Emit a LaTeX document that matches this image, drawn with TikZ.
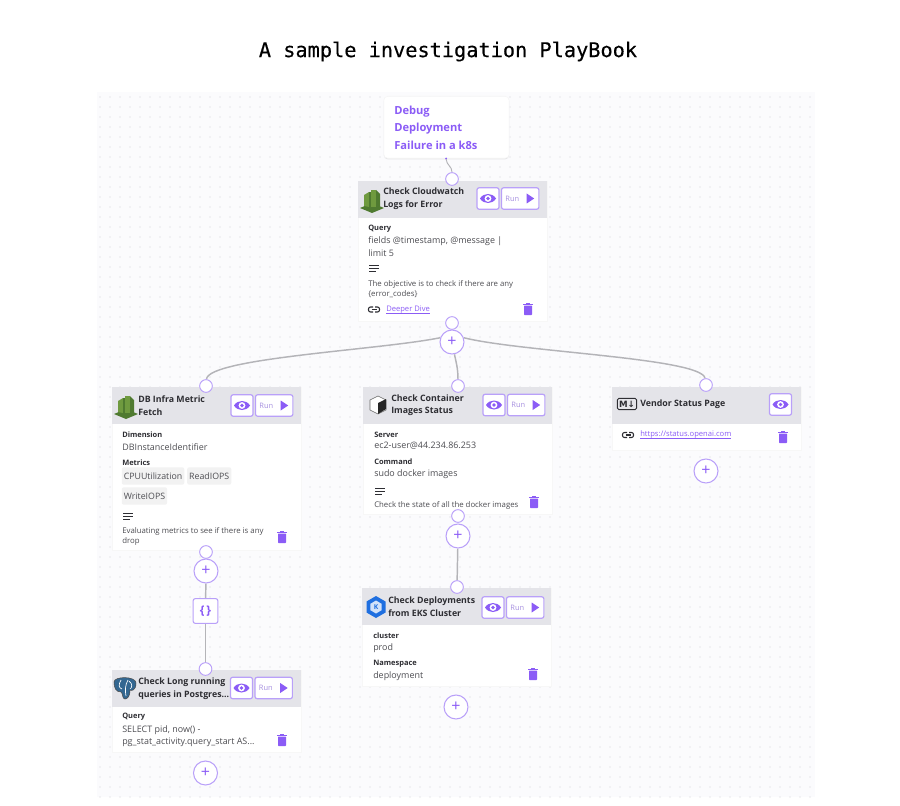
\documentclass[tikz,border=0pt]{standalone}
\usepackage{fontspec}
\usepackage{tikz}
\usetikzlibrary{positioning,backgrounds,shadows}
\setmainfont{Open Sans}
\newfontfamily\titlefont[FakeBold=0.35]{DejaVu Sans Mono}
\newfontfamily\glyphfont{DejaVu Sans}
\definecolor{pbpurple}{HTML}{8B5CF6}
\definecolor{pbedge}{HTML}{B9A0F9}
\definecolor{pbhead}{HTML}{E4E4E9}
\definecolor{pbcanvas}{HTML}{FBFBFD}
\definecolor{pbdot}{HTML}{D0D0D8}
\definecolor{pbink}{HTML}{2E2E33}
\definecolor{pbwire}{HTML}{B4B4B8}
\definecolor{pbgreen}{HTML}{6F9A3F}
\definecolor{pbdark}{HTML}{4F7A30}
\definecolor{pbblue}{HTML}{336791}
\definecolor{pbeks}{HTML}{1F6FE0}

\tikzset{
  px/.style={x=0.75pt, y=-0.75pt},
  cardbody/.style={draw=black!3, fill=white, anchor=north west, inner sep=0pt,
                   minimum width=141.75pt, minimum height={#1*0.75pt}},
  cardhead/.style={fill=pbhead, anchor=north, inner sep=0pt,
                   minimum width=141.75pt, minimum height=27.5pt},
  cardtitle/.style={anchor=west, align=left, inner sep=0pt, text=pbink, yshift=-0.4pt,
                    font=\fontsize{6.6}{9.3}\selectfont\bfseries},
  fieldname/.style={anchor=west, inner sep=0pt, text=pbink, yshift=-0.75pt,
                    font=\fontsize{5.6}{7}\selectfont\bfseries},
  fieldval/.style={anchor=west, align=left, inner sep=0pt, text=pbink!85, yshift=-0.75pt,
                   font=\fontsize{6.7}{9.4}\selectfont},
  notetext/.style={anchor=west, align=left, inner sep=0pt, text=pbink!85, yshift=-0.75pt,
                   font=\fontsize{5.85}{7.5}\selectfont},
  linktext/.style={anchor=west, inner sep=0pt, text=pbpurple, yshift=-3pt,
                   font=\fontsize{5.7}{7}\selectfont},
  chip/.style={anchor=west, fill=black!5, rounded corners=1.5pt, inner xsep=1.5pt,
               minimum height=13pt, inner ysep=0pt, text=pbink!85,
               font=\fontsize{6.6}{8}\selectfont},
  eyebtn/.style={draw=pbedge, fill=white, line width=0.9pt, rounded corners=1.5pt,
                 minimum width=16.5pt, minimum height=16pt, inner sep=0pt},
  runbtn/.style={draw=pbedge, fill=white, line width=0.9pt, rounded corners=1.5pt,
                 minimum width=28pt, minimum height=16pt, inner sep=0pt},
  handle/.style={circle, draw=pbedge, fill=white, line width=0.7pt,
                 minimum size=9.5pt, inner sep=0pt},
  addbtn/.style={circle, draw=pbedge, fill=white, line width=0.8pt,
                 minimum size=18pt, inner sep=0pt, text=pbpurple,
                 font=\fontsize{12}{12}\selectfont},
  wire/.style={pbwire, line width=1.1pt},
  pics/eyeglyph/.style={code={
    \fill[pbpurple] (-8,0) .. controls (-4.5,-6) and (4.5,-6) .. (8,0)
      .. controls (4.5,6) and (-4.5,6) .. (-8,0) -- cycle;
    \fill[white] (0,0) circle[radius=3.4];
    \fill[pbpurple] (0,0) circle[radius=1.9];
  }},
  pics/playglyph/.style={code={
    \fill[pbpurple] (-3.5,-5) -- (4,0) -- (-3.5,5) -- cycle;
  }},
  pics/trashglyph/.style={code={
    \fill[pbpurple, rounded corners=0.5pt] (-4,-3.5) rectangle (4,6);
    \fill[pbpurple] (-5,-5.5) rectangle (5,-4.2);
    \fill[pbpurple] (-1.8,-6.5) rectangle (1.8,-5);
  }},
  pics/noteglyph/.style={code={
    \draw[pbink, line width=0.7pt] (-5,-3) -- (5,-3) (-5,0) -- (5,0) (-5,3) -- (2,3);
  }},
  pics/linkglyph/.style={code={
    \draw[pbink, line width=0.8pt, rounded corners=1.5pt] (-1,-2.5) -- (-5.5,-2.5) -- (-5.5,2.5) -- (-1,2.5);
    \draw[pbink, line width=0.8pt, rounded corners=1.5pt] (1,-2.5) -- (5.5,-2.5) -- (5.5,2.5) -- (1,2.5);
    \draw[pbink, line width=0.8pt] (-2.5,0) -- (2.5,0);
  }},
  pics/blockglyph/.style={code={
    \fill[pbdark] (-12,8) -- (0,3) -- (12,8) -- (0,13) -- cycle;
    \fill[pbgreen] (-8,-5) -- (-3,-8) -- (-3,7) -- (-8,6) -- cycle;
    \fill[pbdark] (-3,-8) rectangle (-1,7);
    \fill[pbgreen] (-1,-10) -- (4,-10) -- (4,7) -- (-1,7) -- cycle;
    \fill[pbdark] (4,-10) -- (8,-6) -- (8,6) -- (4,7) -- cycle;
  }},
  pics/elephantglyph/.style={code={
    \fill[pbblue, draw=black!70, line width=0.4pt] (-11,-6) .. controls (-11,-12) and (11,-12) .. (11,-5)
      .. controls (11,3) and (6,3) .. (5,2) .. controls (5,9) and (2,11) .. (0,11)
      .. controls (-3,11) and (-2,5) .. (-4,4) .. controls (-9,4) and (-11,0) .. (-11,-6) -- cycle;
    \draw[white, line width=0.5pt] (-4,-8) .. controls (-7,-3) and (-6,0) .. (-3,1);
    \draw[white, line width=0.5pt] (3,-8) .. controls (0,-3) and (0,3) .. (1,8);
    \draw[white, line width=0.5pt] (4,-7) .. controls (8,-4) and (7,0) .. (5,1);
  }},
  pics/cubeglyph/.style={code={
    \fill[white, draw=black!60, line width=0.4pt] (0,-9) -- (8,-5) -- (8,5) -- (0,9) -- (-8,5) -- (-8,-5) -- cycle;
    \fill[black!85] (0,-2) -- (8,-6) -- (8,4) -- (0,9) -- cycle;
  }},
  pics/hexglyph/.style={code={
    \fill[pbeks] (0,-11) -- (9.5,-5.5) -- (9.5,5.5) -- (0,11) -- (-9.5,5.5) -- (-9.5,-5.5) -- cycle;
    \fill[white!80!pbeks] (0,-6.5) -- (5.6,-3.2) -- (5.6,3.2) -- (0,6.5) -- (-5.6,3.2) -- (-5.6,-3.2) -- cycle;
  }},
}

\newcommand{\cardframe}[4]{%
  \node[cardbody=#4] (#1) at (#2,#3) {};
  \node[cardhead] (#1head) at (#1.north) {};
}
\newcommand{\cardbuttons}[3]{%
  \node[eyebtn] (#1eye) at (#2,#3) {};
  \pic at (#1eye) {eyeglyph};
  \node[runbtn, right=1pt of #1eye] (#1run) {};
  \node[anchor=west, inner sep=0pt, text=pbedge!90!black, font=\fontsize{5.6}{7}\selectfont] at ([xshift=3.2pt]#1run.west) {Run};
  \pic at ([xshift=-7pt]#1run.east) {playglyph};
}

\begin{document}
\begin{tikzpicture}[px]
\useasboundingbox (0,0) rectangle (900,806);

% Canvas with its dot grid
\begin{pgfonlayer}{background}
\fill[white] (0,0) rectangle (900,806);
\fill[pbcanvas] (97,92) rectangle (815,797);
\foreach \y in {97,107,...,797}
  \draw[pbdot, line width=0.85pt, line cap=round, dash pattern=on 0pt off 7.5pt] (100,\y) -- (812,\y);
\end{pgfonlayer}

\node[font=\fontsize{15.2}{18}\selectfont\titlefont, text=black, inner sep=0pt] (heading) at (448,51.5) {A sample investigation PlayBook};

% Start card
\node[draw=black!4, fill=white, rounded corners=3pt, anchor=north west, minimum width=94pt, minimum height=46.5pt,
      drop shadow={opacity=0.18, shadow xshift=0pt, shadow yshift=-0.8pt}] (debug) at (383.5,96) {};
\node[anchor=west, align=left, inner sep=0pt, text=pbpurple, font=\fontsize{8.35}{13.1}\selectfont\bfseries] (debugtext) at (394,127.5) {Debug\\Deployment\\Failure in a k8s};
\fill[pbpurple] (446,158.5) circle[radius=1];
\coordinate (debugout) at (446,159);

% Cloudwatch
\cardframe{cw}{358}{181}{140}
\pic at (372,200) {blockglyph};
\node[cardtitle] (cwtitle) at (383,198) {Check Cloudwatch\\Logs for Error};
\cardbuttons{cw}{488}{198.5}
\node[fieldname] (cwq) at (368,228) {Query};
\node[fieldval] (cwqv) at (368,245.5) {fields @timestamp, @message |\\limit 5};
\pic at (374,268) {noteglyph};
\node[notetext] (cwnote) at (368,288) {The objective is to check if there are any\\\{error\_codes\}};
\pic at (374,309.5) {linkglyph};
\node[linktext] (cwlink) at (386,309) {\underline{\smash{Deeper Dive}}};
\pic at (528,309) {trashglyph};
\node[handle] (cwin) at (452,179) {};
\node[handle] (cwout) at (452,323) {};
\node[addbtn] (cwadd) at (452,342) {+};

% DB infra
\cardframe{db}{112}{387}{163}
\pic at (126,406) {blockglyph};
\node[cardtitle] (dbtitle) at (138,405) {DB Infra Metric\\Fetch};
\cardbuttons{db}{242}{405.5}
\node[fieldname] (dbdim) at (122,434) {Dimension};
\node[fieldval] (dbdimv) at (122,446) {DBInstanceIdentifier};
\node[fieldname] (dbmet) at (122,462) {Metrics};
\node[chip] (chipcpu) at (121.5,476) {CPUUtilization};
\node[chip, right=1.8pt of chipcpu] (chipread) {ReadIOPS};
\node[chip] (chipwrite) at (121.5,496) {WriteIOPS};
\pic at (128,516) {noteglyph};
\node[notetext] (dbnote) at (122,535) {Evaluating metrics to see if there is any\\drop};
\pic at (282,537) {trashglyph};
\node[handle] (dbin) at (206,386) {};
\node[handle] (dbout) at (206,552) {};
\node[addbtn] (dbadd) at (206,571) {+};
\node[draw=pbedge, fill=white, line width=0.8pt, rounded corners=1.5pt, minimum size=18.5pt, inner sep=0pt, text=pbpurple, font=\fontsize{9}{9}\selectfont\bfseries] (dbjson) at (205.5,611) {\{\,\}};

% Postgres
\cardframe{pg}{112}{670}{82}
\pic at (125,688) {elephantglyph};
\node[cardtitle] (pgtitle) at (138,688) {Check Long running\\queries in Postgres...};
\cardbuttons{pg}{241.5}{688}
\node[fieldname] (pgq) at (122,716) {Query};
\node[fieldval] (pgqv) at (122,735) {SELECT pid, now() -\\pg\_stat\_activity.query\_start AS...};
\pic at (282,740) {trashglyph};
\node[handle] (pgin) at (205.5,669) {};
\node[addbtn] (pgadd) at (205.5,773) {+};

% Container images
\cardframe{dk}{363}{387}{127}
\pic at (378,405) {cubeglyph};
\node[cardtitle] (dktitle) at (391,404.5) {Check Container\\Images Status};
\cardbuttons{dk}{494}{405}
\node[fieldname] (dksrv) at (374,434) {Server};
\node[fieldval] (dksrvv) at (374,445) {ec2-user@44.234.86.253};
\node[fieldname] (dkcmd) at (374,461) {Command};
\node[fieldval] (dkcmdv) at (374,473) {sudo docker images};
\pic at (380,491) {noteglyph};
\node[notetext] (dknote) at (374,504) {Check the state of all the docker images};
\pic at (534,502) {trashglyph};
\node[handle] (dkin) at (458,386) {};
\node[handle] (dkout) at (458,516) {};
\node[addbtn] (dkadd) at (458,536) {+};

% EKS
\cardframe{eks}{362}{588}{98}
\pic at (376,607) {hexglyph};
\node[inner sep=0pt, text=pbeks, font=\fontsize{5}{5}\selectfont\bfseries] (ekslogo) at (376,607) {K};
\node[cardtitle] (ekstitle) at (388,606) {Check Deployments\\from EKS Cluster};
\cardbuttons{eks}{493}{607.5}
\node[fieldname] (ekscl) at (373,635) {cluster};
\node[fieldval] (eksclv) at (373,647) {prod};
\node[fieldname] (eksns) at (373,663) {Namespace};
\node[fieldval] (eksnsv) at (373,675) {deployment};
\pic at (533,674) {trashglyph};
\node[handle] (eksin) at (457,587) {};
\node[addbtn] (eksadd) at (456,707) {+};

% Vendor page
\cardframe{vn}{612}{387}{63}
\node[draw=pbink, line width=0.7pt, rounded corners=1pt, inner xsep=1.2pt, inner ysep=1.8pt, text=pbink, font=\fontsize{6.5}{7}\selectfont\glyphfont\bfseries] (vnlogo) at (627,404) {M↓};
\node[cardtitle] (vntitle) at (640,404) {Vendor Status Page};
\node[eyebtn] (vneye) at (780.5,404.5) {};
\pic at (vneye) {eyeglyph};
\pic at (628,435) {linkglyph};
\node[linktext] (vnlink) at (640,434) {\underline{\smash{https://status.openai.com}}};
\pic at (783,437) {trashglyph};
\node[handle] (vnin) at (706,385) {};
\node[addbtn] (vnadd) at (706,471) {+};

% Connectors
\begin{pgfonlayer}{background}
\draw[wire, line width=0.7pt] (debugout) .. controls (447,166) and (452,166) .. (cwin);
\draw[wire] (cwadd.160) .. controls (380,350) and (208,358) .. (dbin);
\draw[wire] (cwadd) .. controls (456,362) and (458,368) .. (dkin);
\draw[wire] (cwadd.20) .. controls (520,352) and (702,358) .. (vnin);
\draw[wire] (dbadd) -- (dbjson);
\draw[wire] (dbjson) -- (pgin);
\draw[wire] (dkadd) -- (eksin);
\end{pgfonlayer}
\end{tikzpicture}
\end{document}
